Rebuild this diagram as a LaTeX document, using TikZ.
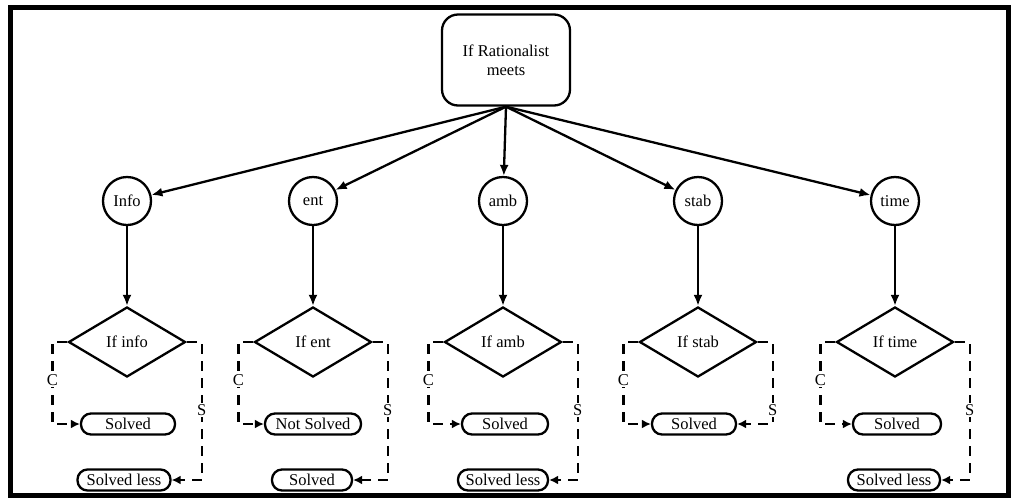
\documentclass[tikz,border=0pt]{standalone}
\usepackage{fontspec}
\setmainfont{Liberation Serif}
\usetikzlibrary{arrows.meta, positioning, shapes.geometric}

\begin{document}
\begin{tikzpicture}[
    x=1pt, y=-1pt,
    font=\fontsize{16.5}{19}\selectfont,
    line width=2.3pt,
    topbox/.style={
      draw,
      rounded corners=16pt,
      minimum width=128pt,
      minimum height=91pt,
      align=center,
      inner sep=0pt,
    },
    factor/.style={
      draw,
      circle,
      minimum size=48pt,
      inner sep=0pt,
    },
    test/.style={
      draw,
      diamond,
      minimum width=117pt,
      minimum height=70pt,
      inner sep=0pt,
    },
    outcome/.style={
      draw,
      rounded corners=10pt,
      minimum width=90pt,
      minimum height=21pt,
      inner sep=0pt,
    },
    link/.style={-{Latex[length=11pt,width=9pt]}},
    branch/.style={
      dash pattern=on 10pt off 7pt,
      -{Latex[length=9pt,width=9pt]},
    },
    tag/.style={fill=white, inner sep=1.5pt},
  ]
    \useasboundingbox (0,0) rectangle (1011,499);
    \draw[line width=5pt] (10,7) rectangle (1008,495);

    \node[topbox] (top) at (506,60) {If Rationalist\\meets};

    \node[factor] (f1) at (127,201) {Info};
    \node[factor] (f2) at (313,201) {ent};
    \node[factor] (f3) at (503,201) {amb};
    \node[factor] (f4) at (698,201) {stab};
    \node[factor] (f5) at (895,201) {time};

    \node[test] (d1) at (127,342) {If info};
    \node[test] (d2) at (313,342) {If ent};
    \node[test] (d3) at (503,342) {If amb};
    \node[test] (d4) at (698,342) {If stab};
    \node[test] (d5) at (895,342) {If time};

    % outcomes of the C branch
    \node[outcome, minimum width=94pt] (c1) at (128,424) {Solved};
    \node[outcome, minimum width=96pt] (c2) at (313,424) {Not Solved};
    \node[outcome, minimum width=86pt] (c3) at (505,424) {Solved};
    \node[outcome, minimum width=84pt] (c4) at (694,424) {Solved};
    \node[outcome, minimum width=88pt] (c5) at (897,424) {Solved};

    % outcomes of the S branch
    \node[outcome, minimum width=93pt] (s1) at (124,480) {Solved less};
    \node[outcome, minimum width=80pt] (s2) at (312,480) {Solved};
    \node[outcome, minimum width=90pt] (s3) at (503,480) {Solved less};
    \node[outcome, minimum width=92pt] (s5) at (894,480) {Solved less};

    \foreach \k in {1,...,5} {
      \draw[link] (top.south) -- (f\k);
      \draw[link] (f\k) -- (d\k);
      \coordinate (cl\k) at ([xshift=-15pt]d\k.west);
      \coordinate (cr\k) at ([xshift=15pt]d\k.east);
      \draw[branch] (d\k.west) -- (cl\k) |- (c\k.west);
      \node[tag] at ([yshift=-38pt]cl\k) {C};
    }

    \draw[branch] (d1.east) -- (cr1) |- (s1.east);
    \draw[branch] (d2.east) -- (cr2) |- (s2.east);
    \draw[branch] (d3.east) -- (cr3) |- (s3.east);
    \draw[branch] (d4.east) -- (cr4) |- (c4.east);
    \draw[branch] (d5.east) -- (cr5) |- (s5.east);
    \foreach \k in {1,...,5} {
      \node[tag] at ([yshift=-68pt]cr\k) {S};
    }
\end{tikzpicture}
\end{document}
